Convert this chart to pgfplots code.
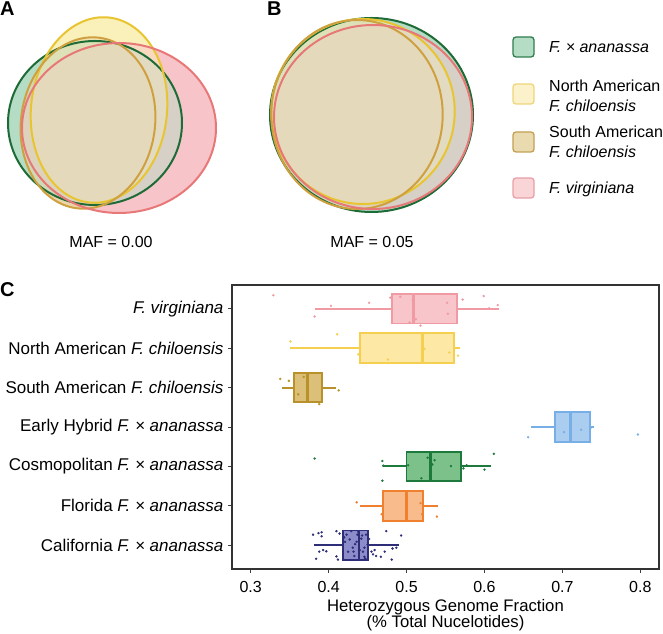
\documentclass[border=0pt]{standalone}
\usepackage{fontspec}
\setmainfont{Liberation Sans}
\usepackage{pgfplots}
\pgfplotsset{compat=1.18}
\usepgfplotslibrary{statistics}

% venn fills
\definecolor{vG}{HTML}{B5DCC4}
\definecolor{vY}{HTML}{FAF0B9}
\definecolor{vS}{HTML}{EAD6A8}
\definecolor{vP}{HTML}{F7C4C9}
\definecolor{lG}{HTML}{1E6B37}
\definecolor{lY}{HTML}{E8C530}
\definecolor{lS}{HTML}{CFA040}
\definecolor{lP}{HTML}{E87878}
\colorlet{vGY}{vG!50!vY}\colorlet{vGS}{vG!50!vS}\colorlet{vGP}{vG!50!vP}
\colorlet{vYS}{vY!50!vS}\colorlet{vYP}{vY!50!vP}\colorlet{vSP}{vS!50!vP}
\colorlet{vGYS}{vS!33!vGY}\colorlet{vGYP}{vP!33!vGY}\colorlet{vGSP}{vP!33!vGS}\colorlet{vYSP}{vP!33!vYS}
\colorlet{vGYSP}{vGY!50!vSP}
% legend
\definecolor{kGf}{HTML}{B5DCC4}\definecolor{kGd}{HTML}{2E7D4F}
\definecolor{kYf}{HTML}{FBF2CC}\definecolor{kYd}{HTML}{EED67A}
\definecolor{kSf}{HTML}{E9DAB0}\definecolor{kSd}{HTML}{C4A050}
\definecolor{kPf}{HTML}{F9D5D8}\definecolor{kPd}{HTML}{E8A0A6}
% boxplots
\definecolor{virF}{HTML}{F8C5CA}\definecolor{virD}{HTML}{F09AA3}
\definecolor{naF}{HTML}{FDE8A6}\definecolor{naD}{HTML}{F5D050}
\definecolor{saF}{HTML}{DCC07A}\definecolor{saD}{HTML}{B8912A}
\definecolor{ehF}{HTML}{AACDF0}\definecolor{ehD}{HTML}{78AEE6}
\definecolor{coF}{HTML}{7CC18A}\definecolor{coD}{HTML}{1D7A3C}
\definecolor{flF}{HTML}{F8BB8C}\definecolor{flD}{HTML}{EE8030}
\definecolor{caF}{HTML}{8C8CCB}\definecolor{caD}{HTML}{2E2E78}

% ellipses, panel A  (#1 = path command, #2 = options)
\newcommand{\AG}[2]{#1[#2] (axis cs:95,510) ellipse [x radius=87, y radius=82];}
\newcommand{\AY}[2]{#1[#2,rotate around={-6:(axis cs:99,523)}] (axis cs:99,523) ellipse [x radius=68, y radius=93];}
\newcommand{\AS}[2]{#1[#2,rotate around={-8:(axis cs:88,510)}] (axis cs:88,510) ellipse [x radius=67, y radius=86];}
\newcommand{\AP}[2]{#1[#2] (axis cs:119,505) ellipse [x radius=97, y radius=85];}
% panel B
\newcommand{\BG}[2]{#1[#2] (axis cs:371.5,518) ellipse [x radius=101.5, y radius=97];}
\newcommand{\BY}[2]{#1[#2] (axis cs:363,521.5) ellipse [x radius=91.7, y radius=92.5];}
\newcommand{\BS}[2]{#1[#2] (axis cs:357,518.5) ellipse [x radius=85.7, y radius=94.5];}
\newcommand{\BP}[2]{#1[#2] (axis cs:373,516) ellipse [x radius=99, y radius=92];}

\newcommand{\venn}[4]{%
 #1{\fill}{vG}#2{\fill}{vY}#3{\fill}{vS}#4{\fill}{vP}%
 \begin{scope}#1{\clip}{}#2{\fill}{vGY}\end{scope}%
 \begin{scope}#1{\clip}{}#3{\fill}{vGS}\end{scope}%
 \begin{scope}#1{\clip}{}#4{\fill}{vGP}\end{scope}%
 \begin{scope}#2{\clip}{}#3{\fill}{vYS}\end{scope}%
 \begin{scope}#2{\clip}{}#4{\fill}{vYP}\end{scope}%
 \begin{scope}#3{\clip}{}#4{\fill}{vSP}\end{scope}%
 \begin{scope}#1{\clip}{}#2{\clip}{}#3{\fill}{vGYS}\end{scope}%
 \begin{scope}#1{\clip}{}#2{\clip}{}#4{\fill}{vGYP}\end{scope}%
 \begin{scope}#1{\clip}{}#3{\clip}{}#4{\fill}{vGSP}\end{scope}%
 \begin{scope}#2{\clip}{}#3{\clip}{}#4{\fill}{vYSP}\end{scope}%
 \begin{scope}#1{\clip}{}#2{\clip}{}#3{\clip}{}#4{\fill}{vGYSP}\end{scope}%
 #1{\draw}{lG,line width=2pt}#2{\draw}{lY,line width=2pt}#3{\draw}{lS,line width=2pt}#4{\draw}{lP,line width=2pt}%
}

\begin{document}
\begin{tikzpicture}[x=1pt,y=1pt,font=\fontsize{16}{19}\selectfont]
\useasboundingbox (0,0) rectangle (663,633);
\coordinate (venncorner) at (0,0);
\coordinate (boxcorner) at (232,64);

% ---------- Venn panels ----------
\begin{axis}[at={(venncorner)}, anchor=south west, width=663pt, height=633pt, scale only axis,
  xmin=0, xmax=663, ymin=0, ymax=633, hide axis, clip=false]
 \venn{\AG}{\AY}{\AS}{\AP}
 \venn{\BG}{\BY}{\BS}{\BP}
\end{axis}

\node[anchor=north west, font=\fontsize{20}{22}\selectfont\bfseries, inner sep=0pt] at (0,631) {A};
\node[anchor=north west, font=\fontsize{20}{22}\selectfont\bfseries, inner sep=0pt] at (267,631) {B};
\node[anchor=north west, font=\fontsize{20}{22}\selectfont\bfseries, inner sep=0pt] at (0,351) {C};
\node at (111,391) {MAF = 0.00};
\node at (372,391) {MAF = 0.05};

% legend
\draw[kGd, fill=kGf, line width=1.3pt, rounded corners=3pt] (513,576) rectangle (534,596);
\draw[kYd, fill=kYf, line width=1.3pt, rounded corners=3pt] (513,529) rectangle (534,549);
\draw[kSd, fill=kSf, line width=1.3pt, rounded corners=3pt] (513,481) rectangle (534,501);
\draw[kPd, fill=kPf, line width=1.3pt, rounded corners=3pt] (513,435) rectangle (534,455);
\node[anchor=west, inner sep=0pt] at (549,586) {\textit{F. × ananassa}};
\node[anchor=west, inner sep=0pt, align=left, font=\fontsize{16}{20.5}\selectfont] at (549,537) {North American\\\textit{F. chiloensis}};
\node[anchor=west, inner sep=0pt, align=left, font=\fontsize{16}{20.5}\selectfont] at (549,491) {South American\\\textit{F. chiloensis}};
\node[anchor=west, inner sep=0pt] at (549,444) {\textit{F. virginiana}};

% ---------- Box plot panel ----------
\begin{axis}[at={(boxcorner)}, anchor=south west, width=427pt, height=284pt, scale only axis,
  xmin=0.276, xmax=0.824, ymin=0.4, ymax=7.6,
  xtick={0.3,0.4,0.5,0.6,0.7,0.8}, ytick={1,2,3,4,5,6,7},
  yticklabels={California \textit{F. × ananassa}, Florida \textit{F. × ananassa}, Cosmopolitan \textit{F. × ananassa}, Early Hybrid \textit{F. × ananassa}, South American \textit{F. chiloensis}, North American \textit{F. chiloensis}, \textit{F. virginiana}},
  xtick pos=bottom, ytick pos=left, tick align=outside, major tick length=4pt,
  tick style={black!75, line width=1pt},
  axis line style={black!80, line width=1.1pt},
  /pgf/number format/assume math mode=true,
  xticklabel style={yshift=-5pt, font=\fontsize{16}{19}\selectfont, /pgf/number format/fixed, /pgf/number format/precision=1, /pgf/number format/fixed zerofill},
  yticklabel style={font=\fontsize{17}{19}\selectfont, xshift=-1pt},
  xlabel={Heterozygous Genome Fraction\\(\% Total Nucelotides)},
  xlabel style={align=center, font=\fontsize{16.7}{16}\selectfont},
  boxplot/draw direction=x, boxplot/box extend=0.75, boxplot/whisker extend=0,
  boxplot/every box/.append style={line width=1.9pt},
  boxplot/every whisker/.append style={line width=2pt},
  boxplot/every median/.append style={line width=2.8pt},
  clip=false]
\addplot[boxplot prepared={draw position=7, lower whisker=0.382, lower quartile=0.481, median=0.509, upper quartile=0.565, upper whisker=0.619}, draw=virD, fill=virF, line width=1.9pt] coordinates {};
\addplot[boxplot prepared={draw position=6, lower whisker=0.351, lower quartile=0.440, median=0.520, upper quartile=0.561, upper whisker=0.569}, draw=naD, fill=naF, line width=1.9pt] coordinates {};
\addplot[boxplot prepared={draw position=5, lower whisker=0.340, lower quartile=0.355, median=0.373, upper quartile=0.392, upper whisker=0.410}, draw=saD, fill=saF, line width=1.9pt] coordinates {};
\addplot[boxplot prepared={draw position=4, lower whisker=0.660, lower quartile=0.691, median=0.710, upper quartile=0.736, upper whisker=0.740}, draw=ehD, fill=ehF, line width=1.9pt] coordinates {};
\addplot[boxplot prepared={draw position=3, lower whisker=0.470, lower quartile=0.500, median=0.531, upper quartile=0.570, upper whisker=0.609}, draw=coD, fill=coF, line width=1.9pt] coordinates {};
\addplot[boxplot prepared={draw position=2, lower whisker=0.440, lower quartile=0.470, median=0.500, upper quartile=0.521, upper whisker=0.540}, draw=flD, fill=flF, line width=1.9pt] coordinates {};
\addplot[boxplot prepared={draw position=1, lower whisker=0.381, lower quartile=0.419, median=0.439, upper quartile=0.451, upper whisker=0.490}, draw=caD, fill=caF, line width=1.9pt] coordinates {};

% jittered points
\addplot[only marks, mark=*, mark size=1pt, virD] coordinates {
(0.329,7.34) (0.403,7.07) (0.452,7.15) (0.382,6.80) (0.479,7.28) (0.492,7.30) (0.508,7.22) (0.512,6.73)
(0.504,6.65) (0.518,6.57) (0.552,7.15) (0.553,6.87) (0.572,7.23) (0.599,7.32) (0.606,7.01) (0.617,7.09)};
\addplot[only marks, mark=*, mark size=1pt, naD] coordinates {
(0.351,6.17) (0.411,6.35) (0.438,5.84) (0.476,5.71) (0.523,5.98) (0.555,5.89) (0.566,5.81)};
\addplot[only marks, mark=*, mark size=1pt, saD] coordinates {
(0.338,5.22) (0.349,5.17) (0.361,4.83) (0.368,5.27) (0.388,4.58) (0.413,4.93)};
\addplot[only marks, mark=*, mark size=1pt, ehD] coordinates {
(0.656,3.74) (0.702,3.87) (0.724,3.93) (0.737,3.99) (0.797,3.81)};
\addplot[only marks, mark=*, mark size=1pt, coD] coordinates {
(0.382,3.20) (0.469,3.14) (0.470,3.02) (0.469,2.64) (0.502,3.03) (0.527,3.22) (0.533,3.05) (0.536,3.16)
(0.519,2.70) (0.530,2.76) (0.557,3.01) (0.573,2.95) (0.577,3.03) (0.600,2.92) (0.612,3.32)};
\addplot[only marks, mark=*, mark size=1pt, flD] coordinates {
(0.436,2.09) (0.468,1.79) (0.518,2.07) (0.520,1.79) (0.539,1.73)};
\addplot[only marks, mark=*, mark size=1pt, caD] coordinates {
(0.380,1.27) (0.387,1.31) (0.391,1.33) (0.391,1.23) (0.410,1.36) (0.414,1.30) (0.388,0.84) (0.393,0.88)
(0.397,0.85) (0.384,0.66) (0.410,0.72) (0.412,0.64) (0.423,1.27) (0.427,1.15) (0.431,0.94) (0.433,0.73)
(0.438,1.34) (0.440,0.88) (0.442,1.17) (0.444,0.84) (0.446,0.71) (0.425,0.84) (0.429,1.36) (0.448,1.27)
(0.450,1.02) (0.455,0.84) (0.459,0.88) (0.461,0.73) (0.474,1.36) (0.493,1.25) (0.482,0.92) (0.487,0.94)
(0.481,0.64) (0.467,0.71) (0.457,0.77) (0.421,1.09) (0.436,1.09) (0.437,1.27) (0.443,1.25) (0.432,0.84)
(0.446,0.94) (0.472,0.84) (0.420,1.20) (0.434,1.03) (0.452,1.16) (0.447,0.66)};
\end{axis}
\end{tikzpicture}
\end{document}
